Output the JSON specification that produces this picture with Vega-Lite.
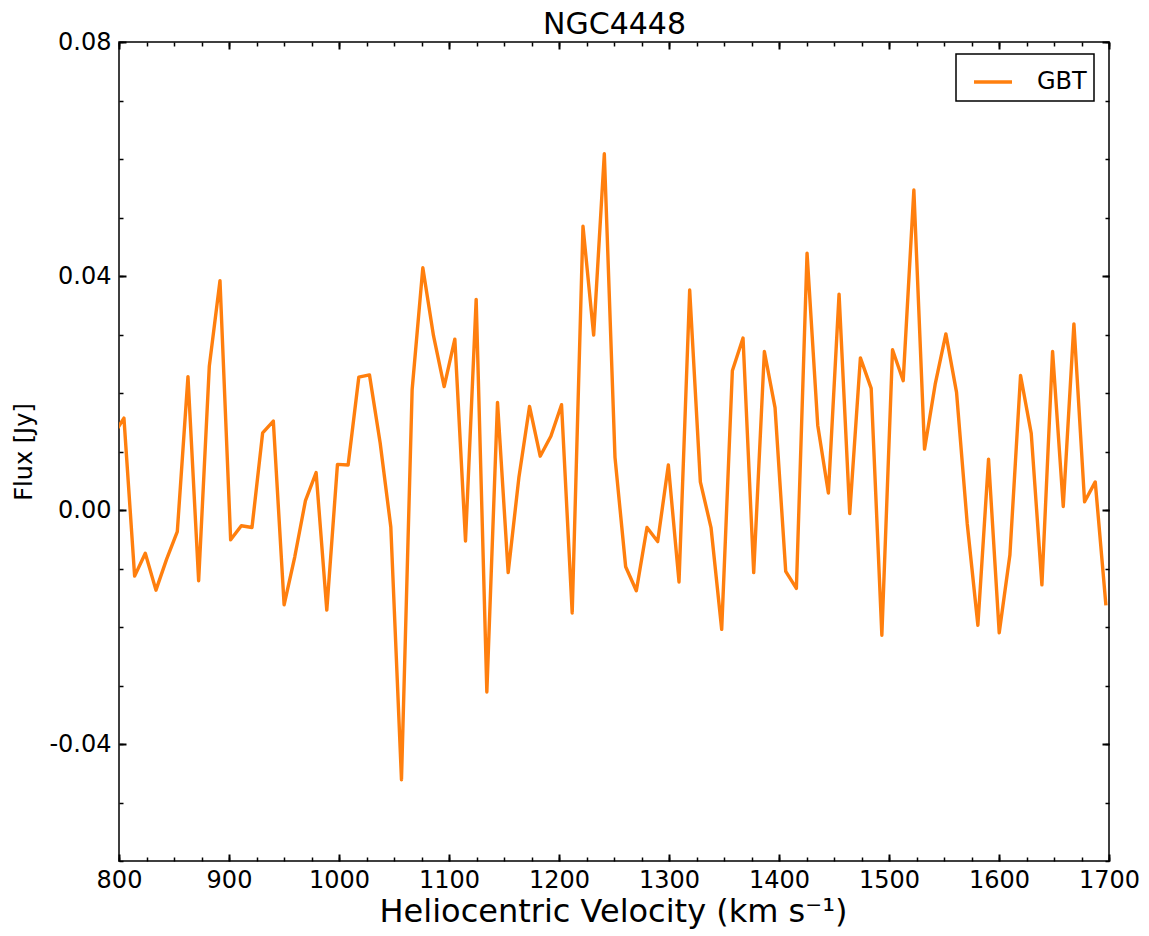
{
  "$schema": "https://vega.github.io/schema/vega-lite/v6.json",
  "width": 990,
  "height": 819,
  "autosize": {"type": "none"},
  "padding": {"left": 119, "top": 42, "right": 40, "bottom": 75},
  "background": "white",
  "data": {"values": [
    {"velocity": 794.8, "flux": 0.0128}, {"velocity": 804.5, "flux": 0.0157}, {"velocity": 814.2, "flux": -0.0113}, {"velocity": 823.9, "flux": -0.0074},
    {"velocity": 833.6, "flux": -0.0137}, {"velocity": 843.3, "flux": -0.0084}, {"velocity": 853.0, "flux": -0.0037}, {"velocity": 862.7, "flux": 0.0228},
    {"velocity": 872.4, "flux": -0.0121}, {"velocity": 882.1, "flux": 0.0246}, {"velocity": 891.8, "flux": 0.0392}, {"velocity": 901.5, "flux": -0.0051},
    {"velocity": 911.2, "flux": -0.0027}, {"velocity": 920.9, "flux": -0.0030}, {"velocity": 930.6, "flux": 0.0132}, {"velocity": 940.3, "flux": 0.0152},
    {"velocity": 950.1, "flux": -0.0162}, {"velocity": 959.8, "flux": -0.0080}, {"velocity": 969.5, "flux": 0.0016}, {"velocity": 979.2, "flux": 0.0064},
    {"velocity": 988.9, "flux": -0.0171}, {"velocity": 998.6, "flux": 0.0078}, {"velocity": 1008.3, "flux": 0.0077}, {"velocity": 1018.0, "flux": 0.0227},
    {"velocity": 1027.7, "flux": 0.0231}, {"velocity": 1037.4, "flux": 0.0115}, {"velocity": 1047.1, "flux": -0.0029}, {"velocity": 1056.8, "flux": -0.0461},
    {"velocity": 1066.5, "flux": 0.0206}, {"velocity": 1076.2, "flux": 0.0414}, {"velocity": 1085.9, "flux": 0.0298}, {"velocity": 1095.6, "flux": 0.0211},
    {"velocity": 1105.3, "flux": 0.0292}, {"velocity": 1115.0, "flux": -0.0053}, {"velocity": 1124.7, "flux": 0.0360}, {"velocity": 1134.4, "flux": -0.0311},
    {"velocity": 1144.1, "flux": 0.0184}, {"velocity": 1153.8, "flux": -0.0107}, {"velocity": 1163.5, "flux": 0.0055}, {"velocity": 1173.2, "flux": 0.0177},
    {"velocity": 1182.9, "flux": 0.0092}, {"velocity": 1192.6, "flux": 0.0126}, {"velocity": 1202.3, "flux": 0.0180}, {"velocity": 1212.0, "flux": -0.0176},
    {"velocity": 1221.8, "flux": 0.0485}, {"velocity": 1231.5, "flux": 0.0299}, {"velocity": 1241.2, "flux": 0.0609}, {"velocity": 1250.9, "flux": 0.0090},
    {"velocity": 1260.6, "flux": -0.0097}, {"velocity": 1270.3, "flux": -0.0138}, {"velocity": 1280.0, "flux": -0.0030}, {"velocity": 1289.7, "flux": -0.0054},
    {"velocity": 1299.4, "flux": 0.0077}, {"velocity": 1309.1, "flux": -0.0123}, {"velocity": 1318.8, "flux": 0.0376}, {"velocity": 1328.5, "flux": 0.0048},
    {"velocity": 1338.2, "flux": -0.0030}, {"velocity": 1347.9, "flux": -0.0204}, {"velocity": 1357.6, "flux": 0.0238}, {"velocity": 1367.3, "flux": 0.0294},
    {"velocity": 1377.0, "flux": -0.0107}, {"velocity": 1386.7, "flux": 0.0271}, {"velocity": 1396.4, "flux": 0.0175}, {"velocity": 1406.1, "flux": -0.0105},
    {"velocity": 1415.8, "flux": -0.0134}, {"velocity": 1425.5, "flux": 0.0439}, {"velocity": 1435.2, "flux": 0.0145}, {"velocity": 1444.9, "flux": 0.0029},
    {"velocity": 1454.6, "flux": 0.0369}, {"velocity": 1464.3, "flux": -0.0006}, {"velocity": 1474.0, "flux": 0.0260}, {"velocity": 1483.8, "flux": 0.0208},
    {"velocity": 1493.5, "flux": -0.0214}, {"velocity": 1503.2, "flux": 0.0274}, {"velocity": 1512.9, "flux": 0.0221}, {"velocity": 1522.6, "flux": 0.0547},
    {"velocity": 1532.3, "flux": 0.0104}, {"velocity": 1542.0, "flux": 0.0215}, {"velocity": 1551.7, "flux": 0.0301}, {"velocity": 1561.4, "flux": 0.0201},
    {"velocity": 1571.1, "flux": -0.0023}, {"velocity": 1580.8, "flux": -0.0197}, {"velocity": 1590.5, "flux": 0.0087}, {"velocity": 1600.2, "flux": -0.0210},
    {"velocity": 1609.9, "flux": -0.0077}, {"velocity": 1619.6, "flux": 0.0230}, {"velocity": 1629.3, "flux": 0.0131}, {"velocity": 1639.0, "flux": -0.0128},
    {"velocity": 1648.7, "flux": 0.0271}, {"velocity": 1658.4, "flux": 0.0006}, {"velocity": 1668.1, "flux": 0.0318}, {"velocity": 1677.8, "flux": 0.0014},
    {"velocity": 1687.5, "flux": 0.0048}, {"velocity": 1697.2, "flux": -0.0163}
  ]},
  "layer": [
    {
      "mark": {"type": "line", "strokeWidth": 3.4, "strokeJoin": "round", "clip": true},
      "encoding": {
        "x": {"field": "velocity", "type": "quantitative", "scale": {"domain": [800, 1700], "nice": false, "zero": false},
          "axis": {"orient": "bottom", "values": [800, 900, 1000, 1100, 1200, 1300, 1400, 1500, 1600, 1700], "format": "d", "ticks": false, "labelPadding": 7, "labelFontSize": 24, "labelFlush": false, "labelOverlap": false,
            "title": "Heliocentric Velocity (km s⁻¹)", "titleFontSize": 32, "titleFontWeight": "normal", "titleX": 494, "titleY": 60, "titleBaseline": "alphabetic", "titleAlign": "center"}},
        "y": {"field": "flux", "type": "quantitative", "scale": {"domain": [-0.06, 0.08], "nice": false, "zero": false},
          "axis": {"orient": "left", "values": [-0.04, 0, 0.04, 0.08], "labelExpr": "replace(format(datum.value, '.2f'), '−', '-')", "ticks": false, "labelPadding": 8, "labelFontSize": 24, "labelFlush": false, "labelOverlap": false,
            "title": "Flux [Jy]", "titleFontSize": 24, "titleFontWeight": "normal", "titleX": -95, "titleY": 409.5, "titleBaseline": "middle", "titleAlign": "center", "titleAngle": -90}},
        "color": {"datum": "GBT", "type": "nominal", "scale": {"range": ["#ff7f0e"]},
          "legend": {"orient": "none", "legendX": 837, "legendY": 12, "title": null, "symbolType": "stroke", "symbolSize": 1444, "symbolStrokeWidth": 3.4, "symbolOffset": 9,
            "labelFontSize": 24, "labelFont": "DejaVu Sans", "labelColor": "black", "labelOffset": 23, "padding": 7, "strokeColor": "black", "fillColor": "white", "cornerRadius": 0,
            "encode": {"legend": {"update": {"strokeWidth": {"value": 1.5}}}}}}
      }
    },
    {
      "mark": {"type": "line", "opacity": 0},
      "encoding": {
        "x": {"field": "velocity", "type": "quantitative", "scale": {"domain": [800, 1700], "nice": false, "zero": false},
          "axis": {"orient": "bottom", "values": [800, 900, 1000, 1100, 1200, 1300, 1400, 1500, 1600, 1700], "labels": false, "title": null, "tickSize": -7, "tickWidth": 2}},
        "y": {"field": "flux", "type": "quantitative", "scale": {"domain": [-0.06, 0.08], "nice": false, "zero": false},
          "axis": {"orient": "left", "values": [-0.04, 0, 0.04, 0.08], "labels": false, "title": null, "tickSize": -7, "tickWidth": 2}}
      }
    },
    {
      "mark": {"type": "line", "opacity": 0},
      "encoding": {
        "x": {"field": "velocity", "type": "quantitative", "scale": {"domain": [800, 1700], "nice": false, "zero": false},
          "axis": {"orient": "top", "values": [800, 900, 1000, 1100, 1200, 1300, 1400, 1500, 1600, 1700], "labels": false, "tickSize": -7, "tickWidth": 2,
            "title": "NGC4448", "titleFont": "DejaVu Sans", "titleFontSize": 30, "titleFontWeight": "normal", "titleColor": "black", "titleX": 495, "titleY": -8.7, "titleBaseline": "alphabetic", "titleAlign": "center", "titleAngle": 0}},
        "y": {"field": "flux", "type": "quantitative", "scale": {"domain": [-0.06, 0.08], "nice": false, "zero": false},
          "axis": {"orient": "right", "values": [-0.04, 0, 0.04, 0.08], "labels": false, "title": null, "tickSize": -7, "tickWidth": 2}}
      }
    },
    {
      "mark": {"type": "line", "opacity": 0},
      "encoding": {
        "x": {"field": "velocity", "type": "quantitative", "scale": {"domain": [800, 1700], "nice": false, "zero": false},
          "axis": {"orient": "bottom", "values": [800, 825, 850, 875, 900, 925, 950, 975, 1000, 1025, 1050, 1075, 1100, 1125, 1150, 1175, 1200, 1225, 1250, 1275, 1300, 1325, 1350, 1375, 1400, 1425, 1450, 1475, 1500, 1525, 1550, 1575, 1600, 1625, 1650, 1675, 1700], "labels": false, "title": null, "tickSize": -4, "tickWidth": 1.5}},
        "y": {"field": "flux", "type": "quantitative", "scale": {"domain": [-0.06, 0.08], "nice": false, "zero": false},
          "axis": {"orient": "left", "values": [-0.06, -0.05, -0.04, -0.03, -0.02, -0.01, 0, 0.01, 0.02, 0.03, 0.04, 0.05, 0.06, 0.07, 0.08], "labels": false, "title": null, "tickSize": -4, "tickWidth": 1.5}}
      }
    },
    {
      "mark": {"type": "line", "opacity": 0},
      "encoding": {
        "x": {"field": "velocity", "type": "quantitative", "scale": {"domain": [800, 1700], "nice": false, "zero": false},
          "axis": {"orient": "top", "values": [800, 825, 850, 875, 900, 925, 950, 975, 1000, 1025, 1050, 1075, 1100, 1125, 1150, 1175, 1200, 1225, 1250, 1275, 1300, 1325, 1350, 1375, 1400, 1425, 1450, 1475, 1500, 1525, 1550, 1575, 1600, 1625, 1650, 1675, 1700], "labels": false, "title": null, "tickSize": -4, "tickWidth": 1.5}},
        "y": {"field": "flux", "type": "quantitative", "scale": {"domain": [-0.06, 0.08], "nice": false, "zero": false},
          "axis": {"orient": "right", "values": [-0.06, -0.05, -0.04, -0.03, -0.02, -0.01, 0, 0.01, 0.02, 0.03, 0.04, 0.05, 0.06, 0.07, 0.08], "labels": false, "title": null, "tickSize": -4, "tickWidth": 1.5}}
      }
    }
  ],
  "resolve": {"axis": {"x": "independent", "y": "independent"}},
  "config": {
    "view": {"stroke": "black", "strokeWidth": 1.5},
    "axis": {"grid": false, "domain": false, "labelFont": "DejaVu Sans", "titleFont": "DejaVu Sans", "labelColor": "black", "titleColor": "black", "tickColor": "black"}
  }
}
